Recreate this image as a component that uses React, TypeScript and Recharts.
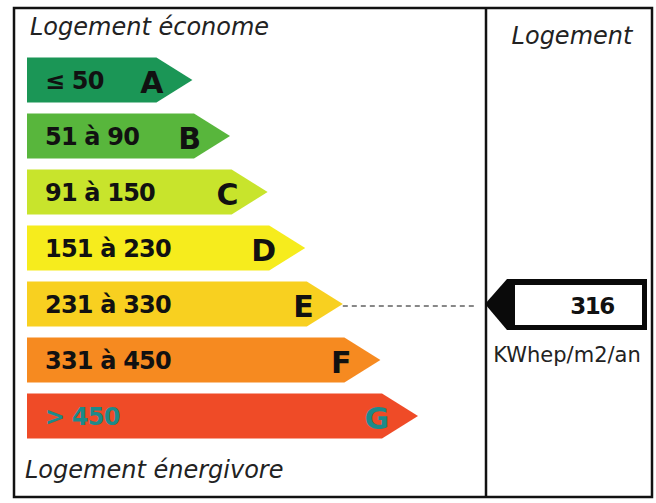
import { BarChart, Bar, XAxis, YAxis, Customized } from 'recharts';

// DPE energy classes, top (économe) to bottom (énergivore)
const classes = ['A', 'B', 'C', 'D', 'E', 'F', 'G'];
const ranges = ['≤ 50', '51 à 90', '91 à 150', '151 à 230', '231 à 330', '331 à 450', '> 450'];
const upperBounds = [50, 90, 150, 230, 330, 450, Infinity];
// arrow length of each class (relative units)
const arrowLength = [44, 54, 64, 74, 84, 94, 104];
const colors = ['#1b9656', '#58b63c', '#c8e42c', '#f6ec1d', '#f8d020', '#f68a20', '#ef4b27'];
const textColors = ['#111', '#111', '#111', '#111', '#111', '#111', '#1d8a8a'];

const housingValue = 316;
const unit = 'KWhep/m2/an';

const data = classes.map((c, i) => ({
  name: c,
  range: ranges[i],
  length: arrowLength[i],
  color: colors[i],
  textColor: textColors[i],
}));

const currentIndex = upperBounds.findIndex((b) => housingValue <= b);

const FONT = '"DejaVu Sans", sans-serif';
const TIP = 36;

const ArrowShape = (props: any) => {
  const { x, y, width, height, payload, index } = props;
  const mid = y + height / 2;
  const bodyEnd = x + width - TIP;
  const points = `${x},${y} ${bodyEnd},${y} ${x + width},${mid} ${bodyEnd},${y + height} ${x},${y + height}`;
  return (
    <g>
      <polygon points={points} fill={payload.color} />
      <text x={x + 18} y={mid + 1} dominantBaseline="central" fontFamily={FONT} fontWeight="bold" fontSize={24} letterSpacing={-0.8} fill={payload.textColor}>
        {payload.range}
      </text>
      <text x={x + width - 29} y={mid + 2} dominantBaseline="central" textAnchor="end" fontFamily={FONT} fontWeight="bold" fontSize={30} fill={payload.textColor}>
        {payload.name}
      </text>
      {index === currentIndex && (
        <g>
          <line x1={x + width} y1={mid + 2} x2={476} y2={mid + 2} stroke="#111" strokeWidth={1} strokeDasharray="5 4" />
          <polygon points={`485,${mid} 507,${mid - 25} 647,${mid - 25} 647,${mid + 26} 507,${mid + 26}`} fill="#0a0a0a" />
          <rect x={515} y={mid - 19} width={127} height={40} fill="#fff" />
          <text x={592} y={mid + 2} dominantBaseline="central" textAnchor="middle" fontFamily={FONT} fontWeight="bold" fontSize={23} letterSpacing={-1.5} fill="#111">
            {housingValue}
          </text>
        </g>
      )}
    </g>
  );
};

const Frame = () => (
  <g>
    <rect x={14} y={8} width={638} height={489} fill="none" stroke="#111" strokeWidth={2.5} />
    <line x1={486} y1={8} x2={486} y2={497} stroke="#111" strokeWidth={2.5} />
    <text x={30} y={35} fontFamily={FONT} fontStyle="italic" fontSize={24} fill="#222">Logement économe</text>
    <text x={25} y={478} fontFamily={FONT} fontStyle="italic" fontSize={24} fill="#222">Logement énergivore</text>
    <text x={572} y={44} textAnchor="middle" fontFamily={FONT} fontStyle="italic" fontSize={24} fill="#222">Logement</text>
    <text x={567} y={362} textAnchor="middle" fontFamily={FONT} fontSize={21} fill="#222">{unit}</text>
  </g>
);

export default function App() {
  return (
    <div style={{ position: 'absolute', left: 0, top: 0, background: '#fff' }}>
      <BarChart
        width={656}
        height={503}
        data={data}
        layout="vertical"
        margin={{ top: 51.5, bottom: 59.5, left: 27, right: 238 }}
        barSize={45}
      >
        <XAxis type="number" domain={[0, 104]} hide />
        <YAxis type="category" dataKey="name" hide />
        <Customized component={<Frame />} />
        <Bar dataKey="length" shape={(p: any) => <ArrowShape {...p} />} isAnimationActive={false} />
      </BarChart>
    </div>
  );
}
